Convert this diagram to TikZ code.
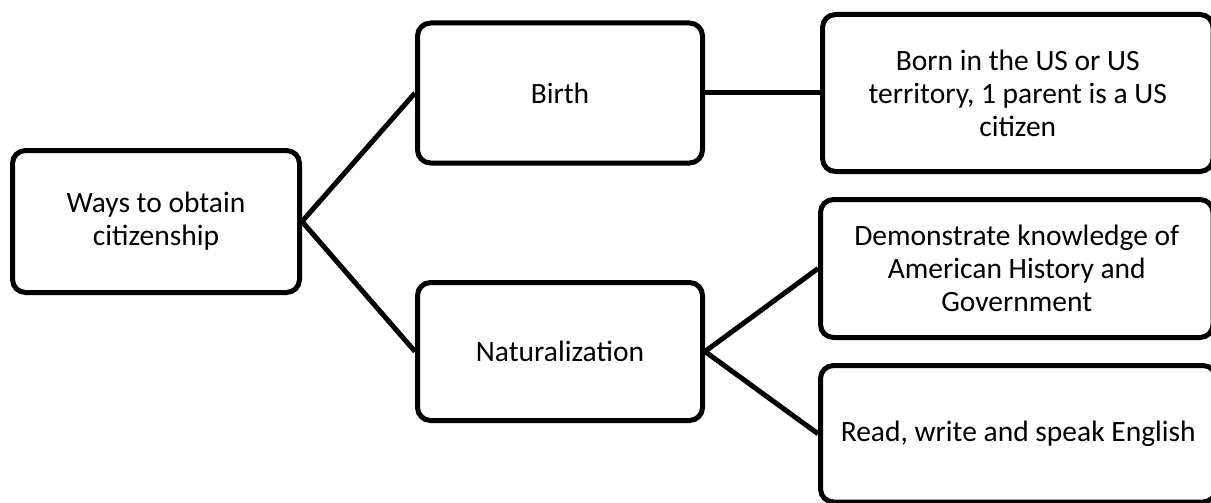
\documentclass[tikz,border=0pt]{standalone}
\usepackage{fontspec}
\setmainfont{Carlito}
\begin{document}
\begin{tikzpicture}[x=1pt,y=-1pt,
  box/.style={draw=black, line width=5pt, rounded corners=13pt, fill=white, align=center, inner sep=0pt, font=\fontsize{29.5}{33}\selectfont},
  conn/.style={draw=black, line width=5pt}]
\useasboundingbox (0,0) rectangle (1211,503);
\node[box, minimum width=287pt, minimum height=142pt] (root) at (156,221.5) {Ways to obtain\\citizenship};
\node[box, minimum width=285pt, minimum height=140pt] (birth) at (560,93) {Birth};
\node[box, minimum width=285pt, minimum height=138pt] (nat) at (560,351.5) {Naturalization};
\node[box, minimum width=390.5pt, minimum height=157pt] (born) at (1017.75,93) {Born in the US or US\\territory, 1 parent is a US\\citizen};
\node[box, minimum width=392.5pt, minimum height=138pt] (demo) at (1016.75,268.5) {Demonstrate knowledge of\\American History and\\Government};
\node[box, minimum width=395.5pt, minimum height=136.5pt] (read) at (1018.25,433.75) {Read, write and speak English};
\draw[conn] (root.east) -- (birth.west);
\draw[conn] (root.east) -- (nat.west);
\draw[conn] (birth.east) -- (born.west);
\draw[conn] (nat.east) -- (demo.west);
\draw[conn] (nat.east) -- (read.west);
\end{tikzpicture}
\end{document}
